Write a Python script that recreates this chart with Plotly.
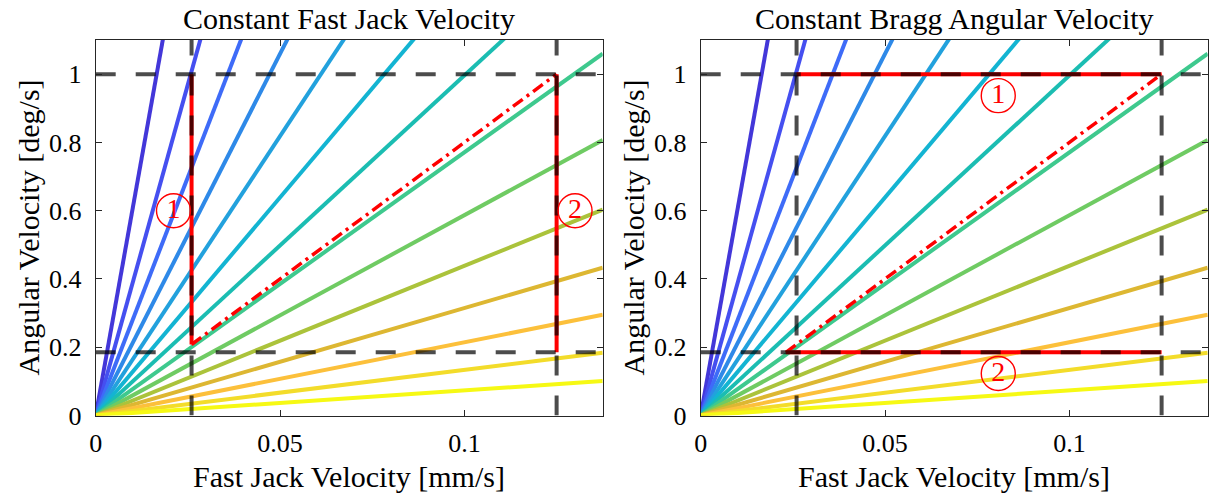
import plotly.graph_objects as go

# ---- data -------------------------------------------------------------
# Fast jack velocity span [mm/s] of the constant-Bragg-angle reference lines
fj_span = [0.0, 0.1375]
# Angular velocity [deg/s] reached by each reference line at the end of fj_span
# (ordered from the steepest line to the shallowest one)
ray_end_velocity = [8.315, 5.334, 3.840, 2.914, 2.251, 1.757, 1.370,
                    1.060, 0.807, 0.603, 0.433, 0.295, 0.184, 0.101]

# Operating limits
fj_limits = [0.026, 0.125]      # fast jack velocity [mm/s]
ang_limits = [0.185, 1.0]       # Bragg angular velocity [deg/s]

# Path end points
left_path1_x, left_path1_y = [0.026, 0.026], [0.208, 1.0]
left_path2_x, left_path2_y = [0.125, 0.125], [0.185, 1.0]
left_diag_x, left_diag_y = [0.026, 0.125], [0.208, 1.0]
right_path1_x, right_path1_y = [0.026, 0.125], [1.0, 1.0]
right_path2_x, right_path2_y = [0.0231, 0.125], [0.185, 0.185]
right_diag_x, right_diag_y = [0.0231, 0.125], [0.185, 1.0]

# Circled path labels
left_label_text, left_label_x, left_label_y = ["1", "2"], [0.0211, 0.1300], [0.60, 0.60]
right_label_text, right_label_x, right_label_y = ["1", "2"], [0.0807, 0.0807], [0.937, 0.123]

x_range = [0, 0.1375]
y_range = [0, 1.1]
x_ticks = [0, 0.05, 0.1]
x_tick_text = ["0", "0.05", "0.1"]
y_ticks = [0, 0.2, 0.4, 0.6, 0.8, 1]
y_tick_text = ["0", "0.2", "0.4", "0.6", "0.8", "1"]

titles = ["Constant Fast Jack Velocity", "Constant Bragg Angular Velocity"]
x_label = "Fast Jack Velocity [mm/s]"
y_label = "Angular Velocity [deg/s]"

# ---- style ------------------------------------------------------------
ray_colors = ["#4337d9", "#454ff0", "#3e6bf8", "#2e89e8", "#22a1dd", "#13b4d2",
              "#1bbdb2", "#3ec98e", "#6fcb63", "#abc33b", "#ddb732", "#fcc03b",
              "#f3dc2a", "#f6f914"]
FONT = "Liberation Serif, Times New Roman, serif"
W, H = 1209, 495
SPINE = "#262626"
DASH_COLOR = "rgba(0,0,0,0.7)"

# plot areas in pixels: (left, right, top, bottom)
areas = [(95.7, 602.7, 40.0, 415.5), (700.7, 1207.7, 40.0, 415.5)]

fig = go.Figure()


def px_x(p):
    return p / W


def px_y(p):
    return 1 - p / H


def add_panel(idx, red_paths, diag, labels):
    xa = "x" if idx == 0 else "x2"
    ya = "y" if idx == 0 else "y2"
    # constant-angle reference lines
    for v, c in zip(ray_end_velocity, ray_colors):
        fig.add_trace(go.Scatter(x=fj_span, y=[0, v], mode="lines",
                                 line=dict(color=c, width=4),
                                 xaxis=xa, yaxis=ya, hoverinfo="skip"))
    # followed paths
    for px_, py_ in red_paths:
        fig.add_trace(go.Scatter(x=px_, y=py_, mode="lines",
                                 line=dict(color="#ff0000", width=4),
                                 xaxis=xa, yaxis=ya, hoverinfo="skip"))
    fig.add_trace(go.Scatter(x=diag[0], y=diag[1], mode="lines",
                             line=dict(color="#ff0000", width=3.5,
                                       dash="12px,5px,3px,5px"),
                             xaxis=xa, yaxis=ya, hoverinfo="skip"))
    # operating limits
    for fj in fj_limits:
        fig.add_trace(go.Scatter(x=[fj, fj], y=y_range, mode="lines",
                                 line=dict(color=DASH_COLOR, width=4, dash="20px,20px"),
                                 xaxis=xa, yaxis=ya, hoverinfo="skip"))
    for av in ang_limits:
        fig.add_trace(go.Scatter(x=x_range, y=[av, av], mode="lines",
                                 line=dict(color=DASH_COLOR, width=4, dash="20px,20px"),
                                 xaxis=xa, yaxis=ya, hoverinfo="skip"))
    # circled path numbers
    txt, lx, ly = labels
    fig.add_trace(go.Scatter(x=lx, y=ly, mode="markers+text", text=txt,
                             textposition="middle center",
                             textfont=dict(family=FONT, size=28, color="#ff0000"),
                             marker=dict(symbol="circle-open", size=34,
                                         color="#ff0000", line=dict(width=1.4, color="#ff0000")),
                             xaxis=xa, yaxis=ya, hoverinfo="skip", cliponaxis=False))


add_panel(0, [(left_path1_x, left_path1_y), (left_path2_x, left_path2_y)],
          (left_diag_x, left_diag_y), (left_label_text, left_label_x, left_label_y))
add_panel(1, [(right_path1_x, right_path1_y), (right_path2_x, right_path2_y)],
          (right_diag_x, right_diag_y), (right_label_text, right_label_x, right_label_y))

axis_common = dict(showgrid=False, zeroline=False, showline=True, linecolor=SPINE,
                   linewidth=1, mirror="ticks", ticks="inside", ticklen=6,
                   tickcolor=SPINE, tickwidth=1, automargin=False,
                   tickfont=dict(family=FONT, size=26, color="black"))

layout = dict(width=W, height=H, margin=dict(l=0, r=0, t=0, b=0, autoexpand=False),
              paper_bgcolor="white", plot_bgcolor="white", showlegend=False)
for i, (l, r, t, b) in enumerate(areas):
    sfx = "" if i == 0 else "2"
    layout["xaxis" + sfx] = dict(axis_common, domain=[px_x(l), px_x(r)], range=x_range,
                                 tickvals=x_ticks, ticktext=x_tick_text,
                                 anchor="y" + sfx, ticklabelstandoff=4)
    layout["yaxis" + sfx] = dict(axis_common, domain=[px_y(b), px_y(t)], range=y_range,
                                 tickvals=y_ticks, ticktext=y_tick_text,
                                 anchor="x" + sfx, ticklabelstandoff=8)
fig.update_layout(**layout)

for i, (l, r, t, b) in enumerate(areas):
    cx = (l + r) / 2
    fig.add_annotation(x=px_x(cx), y=1.0, xref="paper", yref="paper",
                       text=titles[i], showarrow=False, xanchor="center", yanchor="top",
                       font=dict(family=FONT, size=30, color="black"))
    fig.add_annotation(x=px_x(cx), y=0.0, xref="paper", yref="paper",
                       text=x_label, showarrow=False, xanchor="center", yanchor="bottom",
                       font=dict(family=FONT, size=30, color="black"))
    fig.add_annotation(x=px_x(l - 67), y=px_y((t + b) / 2), xref="paper", yref="paper",
                       text=y_label, showarrow=False, textangle=-90,
                       xanchor="center", yanchor="middle",
                       font=dict(family=FONT, size=30, color="black"))

fig.write_html("out.html", config={"displayModeBar": False})
